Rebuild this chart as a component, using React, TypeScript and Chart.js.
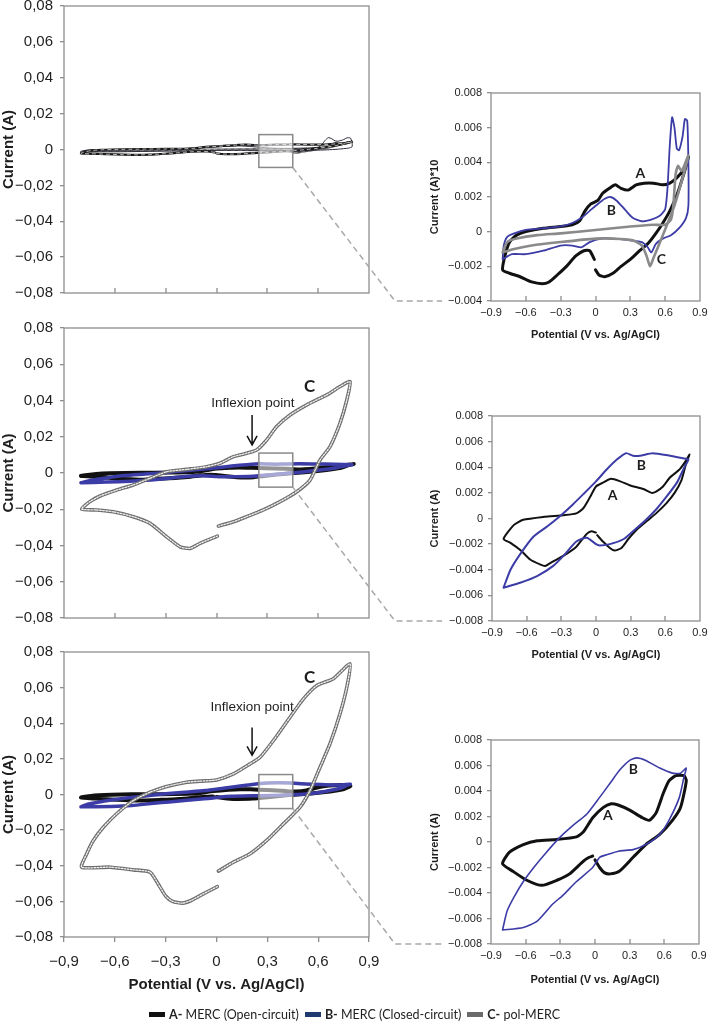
import React, { useEffect, useRef } from 'react';
import { Chart, registerables } from 'chart.js';
Chart.register(...registerables);

type P = [number, number];

// ---------------- data (Potential V, Current A) ----------------
const PANEL1_A: P[] = [[0.00,-0.0022],[0.03,-0.0025],[0.08,-0.0026],[0.15,-0.0024],[0.22,-0.0020],[0.30,-0.0016],[0.38,-0.0011],[0.45,-0.0007],[0.52,-0.0001],[0.58,0.0005],[0.64,0.0012],[0.70,0.0021],[0.75,0.0031],[0.80,0.0043],[0.76,0.0036],[0.70,0.0031],[0.64,0.0028],[0.58,0.0027],[0.50,0.0028],[0.42,0.0028],[0.35,0.0027],[0.28,0.0024],[0.22,0.0025],[0.17,0.0027],[0.12,0.0025],[0.06,0.0022],[0.02,0.0018],[-0.04,0.0016],[-0.09,0.0012],[-0.14,0.0006],[-0.20,0.0004],[-0.30,0.0003],[-0.45,0.0002],[-0.60,0.0000],[-0.68,-0.0002],[-0.74,-0.0006],[-0.78,-0.0014],[-0.80,-0.0022],[-0.74,-0.0024],[-0.65,-0.0026],[-0.55,-0.0029],[-0.46,-0.0030],[-0.40,-0.0029],[-0.33,-0.0025],[-0.25,-0.0020],[-0.17,-0.0014],[-0.10,-0.0011],[-0.05,-0.0011],[-0.01,-0.0016]];
const PANEL1_B: P[] = [[-0.80,-0.0016],[-0.79,-0.0008],[-0.76,-0.0003],[-0.70,-0.0001],[-0.60,0.0001],[-0.45,0.0002],[-0.30,0.0003],[-0.20,0.0005],[-0.12,0.0008],[-0.05,0.0012],[0.02,0.0016],[0.08,0.0019],[0.13,0.0020],[0.18,0.0018],[0.25,0.0013],[0.32,0.0008],[0.40,0.0006],[0.48,0.0007],[0.55,0.0009],[0.60,0.0013],[0.62,0.0025],[0.64,0.0050],[0.66,0.0066],[0.68,0.0060],[0.70,0.0048],[0.72,0.0047],[0.75,0.0055],[0.77,0.0065],[0.79,0.0064],[0.80,0.0040],[0.80,0.0015],[0.78,0.0008],[0.72,0.0002],[0.65,-0.0002],[0.58,-0.0004],[0.52,-0.0007],[0.48,-0.0012],[0.45,-0.0009],[0.40,-0.0006],[0.30,-0.0005],[0.15,-0.0004],[0.05,-0.0004],[-0.05,-0.0006],[-0.12,-0.0009],[-0.20,-0.0008],[-0.30,-0.0008],[-0.45,-0.0011],[-0.60,-0.0013],[-0.72,-0.0013],[-0.80,-0.0016]];
const PANEL1_C: P[] = [[-0.80,-0.0012],[-0.76,-0.0006],[-0.68,-0.0004],[-0.50,-0.0002],[-0.30,-0.0001],[0.00,0.0001],[0.30,0.0003],[0.50,0.0004],[0.60,0.0004],[0.65,0.0007],[0.67,0.0015],[0.69,0.0033],[0.71,0.0038],[0.74,0.0035],[0.77,0.0039],[0.80,0.0044],[0.75,0.0031],[0.68,0.0015],[0.61,0.0003],[0.55,-0.0007],[0.50,-0.0015],[0.47,-0.0020],[0.44,-0.0014],[0.40,-0.0008],[0.32,-0.0005],[0.15,-0.0004],[0.00,-0.0004],[-0.30,-0.0006],[-0.55,-0.0008],[-0.70,-0.0010],[-0.80,-0.0012]];

const PANEL2_A: P[] = [[0.01,-0.0013],[0.06,-0.0018],[0.12,-0.0023],[0.16,-0.0025],[0.22,-0.0023],[0.28,-0.0016],[0.35,-0.0009],[0.44,-0.0002],[0.52,0.0004],[0.61,0.0012],[0.68,0.0020],[0.74,0.0030],[0.78,0.0043],[0.81,0.0050],[0.77,0.0044],[0.72,0.0038],[0.64,0.0032],[0.58,0.0025],[0.52,0.0021],[0.48,0.0020],[0.41,0.0023],[0.29,0.0026],[0.21,0.0029],[0.13,0.0031],[0.06,0.0028],[0.00,0.0025],[-0.05,0.0017],[-0.11,0.0008],[-0.17,0.0004],[-0.28,0.00026],[-0.45,0.00013],[-0.63,-0.0001],[-0.71,-0.0005],[-0.80,-0.0016],[-0.74,-0.0019],[-0.65,-0.0025],[-0.57,-0.0032],[-0.48,-0.0036],[-0.44,-0.0037],[-0.40,-0.0035],[-0.28,-0.0029],[-0.17,-0.0022],[-0.08,-0.0012],[-0.04,-0.0010],[0.00,-0.0011]];
const PANEL2_B: P[] = [[-0.80,-0.0054],[-0.74,-0.0040],[-0.65,-0.0027],[-0.54,-0.0014],[-0.42,-0.0006],[-0.31,0.0002],[-0.20,0.0011],[-0.11,0.0019],[0.00,0.0029],[0.09,0.0038],[0.18,0.0046],[0.26,0.0051],[0.32,0.0049],[0.38,0.0049],[0.49,0.0051],[0.64,0.0049],[0.75,0.0047],[0.80,0.0046],[0.77,0.0041],[0.70,0.0028],[0.61,0.0017],[0.52,0.0007],[0.41,-0.0003],[0.32,-0.0010],[0.24,-0.0016],[0.12,-0.0020],[0.03,-0.0021],[0.00,-0.0020],[-0.08,-0.0015],[-0.17,-0.0018],[-0.28,-0.0029],[-0.37,-0.0037],[-0.51,-0.0045],[-0.65,-0.0050],[-0.80,-0.0054]];
const PANEL2_C: P[] = [[0.005,-0.0348],[-0.097,-0.0388],[-0.156,-0.0416],[-0.215,-0.0407],[-0.294,-0.0352],[-0.392,-0.0278],[-0.491,-0.0241],[-0.609,-0.0214],[-0.707,-0.0204],[-0.796,-0.0199],[-0.747,-0.0158],[-0.687,-0.0127],[-0.589,-0.0094],[-0.491,-0.0066],[-0.392,-0.0029],[-0.294,0.0007],[-0.176,0.0020],[-0.058,0.0035],[0.021,0.0054],[0.100,0.0090],[0.178,0.0109],[0.237,0.0127],[0.296,0.0182],[0.355,0.0256],[0.434,0.0320],[0.533,0.0376],[0.651,0.0431],[0.729,0.0477],[0.788,0.0504],[0.769,0.0403],[0.729,0.0275],[0.670,0.0145],[0.611,0.0072],[0.552,-0.0039],[0.474,-0.0103],[0.375,-0.0158],[0.276,-0.0204],[0.178,-0.0241],[0.100,-0.0269],[0.011,-0.0293]];

const PANEL3_A: P[] = [[0.00,-0.0014],[0.04,-0.0020],[0.08,-0.0024],[0.13,-0.0025],[0.21,-0.0023],[0.33,-0.0012],[0.44,-0.0002],[0.56,0.0006],[0.67,0.0017],[0.74,0.0027],[0.79,0.0048],[0.77,0.0052],[0.70,0.0052],[0.64,0.0048],[0.59,0.0038],[0.53,0.0023],[0.47,0.0017],[0.41,0.0019],[0.30,0.0025],[0.20,0.0029],[0.14,0.0030],[0.07,0.0027],[-0.02,0.0019],[-0.10,0.0008],[-0.16,0.0004],[-0.33,0.0002],[-0.50,0.0001],[-0.62,-0.0002],[-0.74,-0.0008],[-0.80,-0.0017],[-0.71,-0.0023],[-0.59,-0.0030],[-0.46,-0.0034],[-0.33,-0.0030],[-0.22,-0.0025],[-0.10,-0.0015],[-0.05,-0.0012],[-0.02,-0.0011]];
const PANEL3_B: P[] = [[-0.80,-0.0069],[-0.76,-0.0054],[-0.70,-0.0043],[-0.62,-0.0031],[-0.53,-0.0020],[-0.42,-0.0008],[-0.30,0.0004],[-0.19,0.0013],[-0.07,0.0022],[0.04,0.0035],[0.13,0.0046],[0.21,0.0056],[0.30,0.0064],[0.36,0.0066],[0.44,0.0064],[0.56,0.0058],[0.67,0.0054],[0.74,0.0054],[0.79,0.0058],[0.77,0.0051],[0.73,0.0035],[0.64,0.0017],[0.56,0.0006],[0.44,-0.0002],[0.33,-0.0006],[0.21,-0.0007],[0.10,-0.0010],[0.04,-0.0012],[-0.02,-0.0020],[-0.16,-0.0031],[-0.28,-0.0042],[-0.37,-0.0049],[-0.50,-0.0062],[-0.62,-0.0067],[-0.80,-0.0069]];
const PANEL3_C: P[] = [[0.005,-0.0517],[-0.078,-0.0558],[-0.15,-0.0595],[-0.20,-0.0610],[-0.26,-0.0600],[-0.30,-0.0570],[-0.333,-0.0520],[-0.392,-0.0436],[-0.491,-0.0423],[-0.628,-0.0408],[-0.796,-0.0408],[-0.766,-0.0333],[-0.727,-0.0258],[-0.668,-0.0184],[-0.589,-0.0108],[-0.491,-0.0034],[-0.392,0.0013],[-0.294,0.0045],[-0.176,0.0069],[-0.097,0.0075],[0.001,0.0082],[0.100,0.0116],[0.198,0.0172],[0.257,0.0209],[0.336,0.0303],[0.434,0.0434],[0.513,0.0537],[0.592,0.0612],[0.690,0.0650],[0.788,0.0734],[0.769,0.0602],[0.729,0.0453],[0.670,0.0285],[0.611,0.0153],[0.552,0.0022],[0.493,-0.0071],[0.395,-0.0165],[0.296,-0.0258],[0.198,-0.0333],[0.100,-0.0380],[0.011,-0.0430]];

// ---------------- ticks ----------------
const MAIN_X_TICKS = [-0.9, -0.6, -0.3, 0, 0.3, 0.6, 0.9];
const MAIN_X_LABELS = ['−0,9', '−0,6', '−0,3', '0', '0,3', '0,6', '0,9'];
const MAIN_Y_TICKS = [-0.08, -0.06, -0.04, -0.02, 0, 0.02, 0.04, 0.06, 0.08];
const MAIN_Y_LABELS = ['−0,08', '−0,06', '−0,04', '−0,02', '0', '0,02', '0,04', '0,06', '0,08'];
const INSET_X_TICKS = [-0.9, -0.6, -0.3, 0, 0.3, 0.6, 0.9];
const INSET_X_LABELS = ['−0.9', '−0.6', '−0.3', '0', '0.3', '0.6', '0.9'];
const INSET1_Y_TICKS = [-0.004, -0.002, 0, 0.002, 0.004, 0.006, 0.008];
const INSET1_Y_LABELS = ['−0.004', '−0.002', '0', '0.002', '0.004', '0.006', '0.008'];
const INSET_Y_TICKS = [-0.008, -0.006, -0.004, -0.002, 0, 0.002, 0.004, 0.006, 0.008];
const INSET_Y_LABELS = ['−0.008', '−0.006', '−0.004', '−0.002', '0', '0.002', '0.004', '0.006', '0.008'];

const LEGEND_KEYS = ['A-', 'B-', 'C-'];
const LEGEND_TEXTS = [' MERC (Open-circuit)', ' MERC (Closed-circuit)', ' pol-MERC'];

// ---------------- styles ----------------
const FRAME = '#8e8e8e';
const TEXT = '#1e1e1e';
const BLACK = '#111111';
const BLUE = '#3c3ca6';
const GRAY = '#8a8a8a';
const LEGEND_COLORS = ['#111111', '#1f3a6e', '#6a6a6a'];
const FONT = '"Liberation Sans", Arial, sans-serif';
const LABEL_FONT = 'Lato, "Open Sans", sans-serif';

const BOX_X: [number, number] = [0.25, 0.45];
const BOX_Y: [number, number][] = [[-0.010, 0.0083], [-0.0078, 0.011], [-0.0079, 0.0112]];

const MAIN_LAYOUT = [
  { left: 0, top: 0, width: 380, height: 300, padTop: 6, padRight: 11, yWidth: 64, xHeight: 7 },
  { left: 0, top: 310, width: 380, height: 315, padTop: 18, padRight: 11, yWidth: 64, xHeight: 7 },
  { left: 0, top: 630, width: 380, height: 370, padTop: 22, padRight: 11, yWidth: 64, xHeight: 63 },
];
const INSET_LAYOUT = [
  { left: 420, top: 80, width: 289, height: 265, padTop: 13, padRight: 9, yWidth: 71, xHeight: 44 },
  { left: 420, top: 400, width: 289, height: 270, padTop: 16, padRight: 9, yWidth: 72, xHeight: 49 },
  { left: 420, top: 725, width: 289, height: 270, padTop: 15, padRight: 10, yWidth: 71, xHeight: 51 },
];

function line(data: P[], color: string, width: number, order: number, dash: number[] = []) {
  return {
    data: data.map(([x, y]) => ({ x, y })),
    borderColor: color,
    backgroundColor: color,
    borderWidth: width,
    borderDash: dash,
    pointRadius: 0,
    showLine: true,
    fill: false,
    tension: 0.2,
    order,
    borderCapStyle: 'round',
    borderJoinStyle: 'round',
  };
}

type Label = { text: string; x: number; y: number; font: string; color?: string };
type Arrow = { x: number; y1: number; y2: number };

function zeroPad(s: any) {
  s.paddingLeft = 0;
  s.paddingRight = 0;
  s.paddingTop = 0;
  s.paddingBottom = 0;
}

function makeChart(canvas: HTMLCanvasElement, o: any) {
  const plugins: any[] = [];
  plugins.push({
    id: 'frameAndTicks',
    afterDatasetsDraw(chart: any) {
      const { ctx, chartArea: a, scales } = chart;
      ctx.save();
      if (o.box) {
        const x0 = scales.x.getPixelForValue(o.box.x[0]);
        const x1 = scales.x.getPixelForValue(o.box.x[1]);
        const y0 = scales.y.getPixelForValue(o.box.y[1]);
        const y1 = scales.y.getPixelForValue(o.box.y[0]);
        ctx.fillStyle = 'rgba(255,255,255,0.55)';
        ctx.fillRect(x0, y0, x1 - x0, y1 - y0);
        ctx.strokeStyle = '#8a8a8a';
        ctx.lineWidth = 1.5;
        ctx.strokeRect(x0, y0, x1 - x0, y1 - y0);
      }
      (o.labels || []).forEach((l: Label) => {
        ctx.font = l.font;
        ctx.fillStyle = l.color || TEXT;
        ctx.textAlign = 'center';
        ctx.textBaseline = 'middle';
        ctx.fillText(l.text, scales.x.getPixelForValue(l.x), scales.y.getPixelForValue(l.y));
      });
      (o.arrows || []).forEach((ar: Arrow) => {
        const px = scales.x.getPixelForValue(ar.x);
        const p1 = scales.y.getPixelForValue(ar.y1);
        const p2 = scales.y.getPixelForValue(ar.y2);
        ctx.strokeStyle = '#111';
        ctx.lineWidth = 1.5;
        ctx.beginPath();
        ctx.moveTo(px, p1);
        ctx.lineTo(px, p2);
        ctx.moveTo(px - 5, p2 - 9);
        ctx.lineTo(px, p2);
        ctx.lineTo(px + 5, p2 - 9);
        ctx.stroke();
      });
      ctx.strokeStyle = FRAME;
      ctx.lineWidth = 1.3;
      if (o.innerTicks) {
        o.xTicks.slice(1, -1).forEach((v: number) => {
          const px = Math.round(scales.x.getPixelForValue(v));
          ctx.beginPath();
          ctx.moveTo(px, a.bottom);
          ctx.lineTo(px, a.bottom - 5);
          ctx.stroke();
        });
      }
      ctx.strokeRect(a.left, a.top, a.right - a.left, a.bottom - a.top);
      ctx.restore();
    },
  });

  return new Chart(canvas, {
    type: 'scatter',
    data: { datasets: o.datasets },
    plugins,
    options: {
      responsive: false,
      animation: false,
      events: [],
      layout: { padding: { top: o.L.padTop, right: o.L.padRight, left: 0, bottom: 0 } },
      plugins: { legend: { display: false }, tooltip: { enabled: false } },
      scales: {
        x: {
          type: 'linear',
          min: -0.9,
          max: 0.9,
          afterBuildTicks: (s: any) => { s.ticks = o.xTicks.map((v: number) => ({ value: v })); },
          afterFit: (s: any) => { s.height = o.L.xHeight; zeroPad(s); },
          grid: o.outerXTicks
            ? { display: true, drawOnChartArea: false, drawTicks: true, tickLength: 5, color: FRAME, lineWidth: 1.3 }
            : { display: false, drawTicks: false },
          border: { display: false },
          ticks: {
            display: o.showXLabels,
            autoSkip: false,
            maxRotation: 0,
            padding: o.xLabelPad,
            color: TEXT,
            font: { family: FONT, size: o.tickSize },
            callback: (_v: any, i: number) => o.xLabels[i],
          },
          title: {
            display: !!o.xTitle,
            text: o.xTitle || '',
            color: TEXT,
            font: { family: FONT, size: o.titleSize, weight: 'bold' },
            padding: { top: 0, bottom: o.xTitlePad },
          },
        },
        y: {
          type: 'linear',
          min: o.yTicks[0],
          max: o.yTicks[o.yTicks.length - 1],
          afterBuildTicks: (s: any) => { s.ticks = o.yTicks.map((v: number) => ({ value: v })); },
          afterFit: (s: any) => { s.width = o.L.yWidth; zeroPad(s); },
          grid: { display: true, drawOnChartArea: false, drawTicks: true, tickLength: 4, color: FRAME, lineWidth: 1.3 },
          border: { display: false },
          ticks: {
            autoSkip: false,
            padding: o.yLabelPad,
            color: TEXT,
            font: { family: FONT, size: o.tickSize },
            callback: (_v: any, i: number) => o.yLabels[i],
          },
          title: {
            display: true,
            text: o.yTitle,
            color: TEXT,
            font: { family: FONT, size: o.titleSize, weight: 'bold' },
            padding: { top: o.yTitlePad, bottom: 0 },
          },
        },
      },
    } as any,
  } as any);
}

function rope(data: P[], o1: number, o2: number) {
  return [line(data, '#6e6e6e', 3.6, o1), line(data, 'rgba(255,255,255,0.9)', 1.3, o2, [1.5, 1.5])];
}

export default function App() {
  const mainRefs = [useRef<HTMLCanvasElement>(null), useRef<HTMLCanvasElement>(null), useRef<HTMLCanvasElement>(null)];
  const insetRefs = [useRef<HTMLCanvasElement>(null), useRef<HTMLCanvasElement>(null), useRef<HTMLCanvasElement>(null)];
  const overlayRef = useRef<HTMLCanvasElement>(null);

  useEffect(() => {
    const charts: any[] = [];
    const mainCommon = {
      xTicks: MAIN_X_TICKS, xLabels: MAIN_X_LABELS, yTicks: MAIN_Y_TICKS, yLabels: MAIN_Y_LABELS,
      yTitle: 'Current (A)', tickSize: 15, titleSize: 15, yTitlePad: 0, yLabelPad: 7, xLabelPad: 11, xTitlePad: 6,
    };
    const insetCommon = {
      xTicks: INSET_X_TICKS, xLabels: INSET_X_LABELS, showXLabels: true, innerTicks: true,
      xTitle: 'Potential (V vs. Ag/AgCl)', tickSize: 11, titleSize: 11, yTitlePad: 8.4, yLabelPad: 5, xLabelPad: 5.4,
    };
    const mainBig = 'bold 17px ' + LABEL_FONT;
    const inflex = '13.5px ' + FONT;
    const insetLbl = 'bold 14px ' + LABEL_FONT;

    const m1 = makeChart(mainRefs[0].current!, {
      ...mainCommon, L: MAIN_LAYOUT[0], showXLabels: false, innerTicks: true,
      box: { x: BOX_X, y: BOX_Y[0] },
      datasets: [
        line(PANEL1_C, '#555555', 1.8, 6), line(PANEL1_C, '#ffffff', 0.6, 5, [3, 4]),
        line(PANEL1_B, '#2a2a3a', 1.0, 4),
        line(PANEL1_A, '#1a1a1a', 2.2, 3), line(PANEL1_A, '#ffffff', 0.7, 2, [3, 4]),
      ],
    });
    const m2 = makeChart(mainRefs[1].current!, {
      ...mainCommon, L: MAIN_LAYOUT[1], showXLabels: false, innerTicks: true,
      box: { x: BOX_X, y: BOX_Y[1] },
      labels: [{ text: 'C', x: 0.55, y: 0.0475, font: mainBig }, { text: 'Inflexion point', x: 0.215, y: 0.0387, font: inflex }],
      arrows: [{ x: 0.21, y1: 0.032, y2: 0.0155 }],
      datasets: [line(PANEL2_A, BLACK, 4, 8), line(PANEL2_B, BLUE, 3.5, 7), ...rope(PANEL2_C, 2, 1)],
    });
    const m3 = makeChart(mainRefs[2].current!, {
      ...mainCommon, L: MAIN_LAYOUT[2], showXLabels: true, outerXTicks: true, innerTicks: false,
      xTitle: 'Potential (V vs. Ag/AgCl)',
      box: { x: BOX_X, y: BOX_Y[2] },
      labels: [{ text: 'C', x: 0.55, y: 0.0657, font: mainBig }, { text: 'Inflexion point', x: 0.21, y: 0.0488, font: inflex }],
      arrows: [{ x: 0.21, y1: 0.0376, y2: 0.022 }],
      datasets: [line(PANEL3_A, BLACK, 4, 8), line(PANEL3_B, BLUE, 3.5, 7), ...rope(PANEL3_C, 2, 1)],
    });
    const i1 = makeChart(insetRefs[0].current!, {
      ...insetCommon, L: INSET_LAYOUT[0], yTicks: INSET1_Y_TICKS, yLabels: INSET1_Y_LABELS, yTitle: 'Current (A)*10', xTitlePad: 3.4,
      labels: [{ text: 'A', x: 0.387, y: 0.00335, font: insetLbl }, { text: 'B', x: 0.136, y: 0.00123, font: insetLbl }, { text: 'C', x: 0.568, y: -0.0016, font: insetLbl }],
      datasets: [line(PANEL1_A, BLACK, 3, 3), line(PANEL1_B, BLUE, 1.8, 2), line(PANEL1_C, GRAY, 2.6, 1)],
    });
    const i2 = makeChart(insetRefs[1].current!, {
      ...insetCommon, L: INSET_LAYOUT[1], yTicks: INSET_Y_TICKS, yLabels: INSET_Y_LABELS, yTitle: 'Current (A)', xTitlePad: 8.4,
      labels: [{ text: 'A', x: 0.144, y: 0.0018, font: insetLbl }, { text: 'B', x: 0.393, y: 0.0041, font: insetLbl }],
      datasets: [line(PANEL2_A, BLACK, 2, 2), line(PANEL2_B, BLUE, 2, 1)],
    });
    const i3 = makeChart(insetRefs[2].current!, {
      ...insetCommon, L: INSET_LAYOUT[2], yTicks: INSET_Y_TICKS, yLabels: INSET_Y_LABELS, yTitle: 'Current (A)', xTitlePad: 8.4,
      labels: [{ text: 'A', x: 0.112, y: 0.0021, font: insetLbl }, { text: 'B', x: 0.333, y: 0.0057, font: insetLbl }],
      datasets: [line(PANEL3_A, BLACK, 3, 2), line(PANEL3_B, BLUE, 1.6, 1)],
    });
    charts.push(m1, m2, m3, i1, i2, i3);

    // dashed connectors from each zoom box to its inset
    const ov = overlayRef.current!;
    const ctx = ov.getContext('2d')!;
    ctx.clearRect(0, 0, ov.width, ov.height);
    ctx.save();
    ctx.strokeStyle = '#a8a8a8';
    ctx.lineWidth = 1.5;
    ctx.setLineDash([6, 4]);
    [m1, m2, m3].forEach((m: any, k: number) => {
      const ML = MAIN_LAYOUT[k];
      const IL = INSET_LAYOUT[k];
      const ins: any = [i1, i2, i3][k];
      const cx = ML.left + m.scales.x.getPixelForValue(BOX_X[1]);
      const cy = ML.top + m.scales.y.getPixelForValue(BOX_Y[k][0]);
      const by = IL.top + ins.chartArea.bottom;
      ctx.beginPath();
      ctx.moveTo(cx, cy);
      ctx.lineTo(IL.left - 25, by);
      ctx.lineTo(IL.left + 22, by);
      ctx.stroke();
    });
    ctx.restore();

    return () => { charts.forEach((c) => c.destroy()); };
  }, []);

  const abs = (L: any): React.CSSProperties => ({ position: 'absolute', left: L.left, top: L.top, width: L.width, height: L.height });

  return (
    <div style={{ position: 'absolute', left: 0, top: 0, width: 709, height: 1024, background: '#fff', overflow: 'hidden' }}>
      {MAIN_LAYOUT.map((L, k) => (
        <canvas key={'m' + k} ref={mainRefs[k]} width={L.width} height={L.height} style={abs(L)} />
      ))}
      {INSET_LAYOUT.map((L, k) => (
        <canvas key={'i' + k} ref={insetRefs[k]} width={L.width} height={L.height} style={abs(L)} />
      ))}
      <canvas ref={overlayRef} width={709} height={1024} style={{ position: 'absolute', left: 0, top: 0, width: 709, height: 1024, pointerEvents: 'none' }} />
      <div style={{ position: 'absolute', left: 0, top: 1005, width: 709, textAlign: 'center', fontFamily: LABEL_FONT, fontSize: 12.5, color: '#222', whiteSpace: 'nowrap', lineHeight: '20px' }}>
        {LEGEND_KEYS.map((k, i) => (
          <span key={k} style={{ marginRight: i < 2 ? 6 : 0 }}>
            <span style={{ display: 'inline-block', width: 16, height: 5, background: LEGEND_COLORS[i], verticalAlign: 'middle', marginRight: 4, position: 'relative', top: -1 }} />
            <b>{k}</b>{LEGEND_TEXTS[i]}
          </span>
        ))}
      </div>
    </div>
  );
}
